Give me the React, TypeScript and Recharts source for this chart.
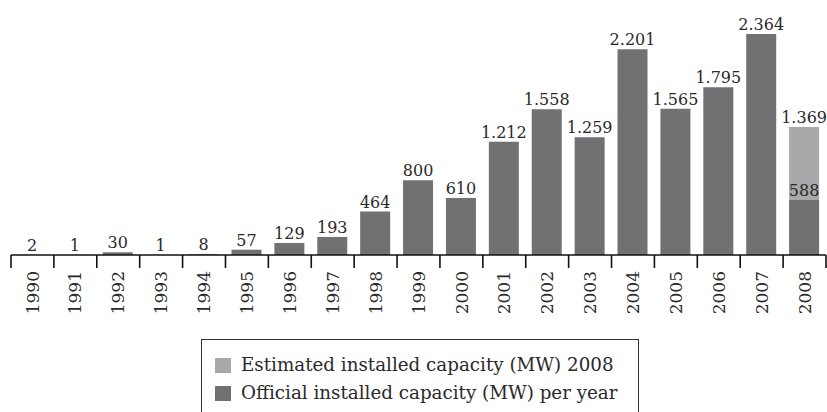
import React from 'react';
import { BarChart, Bar, XAxis, YAxis, LabelList, Legend } from 'recharts';

const years = ['1990','1991','1992','1993','1994','1995','1996','1997','1998','1999','2000','2001','2002','2003','2004','2005','2006','2007','2008'];
const official = [2,1,30,1,8,57,129,193,464,800,610,1212,1558,1259,2201,1565,1795,2364,588];
const estimatedTotal = [null,null,null,null,null,null,null,null,null,null,null,null,null,null,null,null,null,null,1369];

const data = years.map((y, i) => ({
  year: y,
  official: official[i],
  estimated: estimatedTotal[i] != null ? (estimatedTotal[i] as number) - official[i] : null,
  estTotal: estimatedTotal[i],
}));

const W = 827;
const H = 412;
const M = { top: 34, right: 1, left: 11, bottom: 0 };
const PLOT_W = W - M.left - M.right;
const HALF = PLOT_W / years.length / 2;
const FONT = 'DejaVu Serif';
const DARK = '#717174';
const LIGHT = '#a8a8ab';

const fmt = (v: any) => {
  if (v == null) return '';
  const s = String(Math.round(Number(v)));
  return s.replace(/\B(?=(\d{3})+(?!\d))/g, '.');
};

const Tick = (props: any) => {
  const { x, y, payload, index } = props;
  const last = index === years.length - 1;
  return (
    <g>
      <line x1={x - HALF} y1={y} x2={x - HALF} y2={y + 13} stroke="#111" strokeWidth={1.6} />
      {last && <line x1={x + HALF} y1={y} x2={x + HALF} y2={y + 13} stroke="#111" strokeWidth={1.6} />}
      <text
        x={x}
        y={y + 16}
        transform={`rotate(-90, ${x}, ${y + 16})`}
        textAnchor="end"
        dy="0.36em"
        fontFamily={FONT}
        fontSize={17}
        fill="#2a2a2a"
      >
        {payload.value}
      </text>
    </g>
  );
};

const ORDER = ['estimated', 'official'];

const LegendContent = (props: any) => {
  const items = [...(props.payload || [])].sort(
    (a: any, b: any) => ORDER.indexOf(a.dataKey) - ORDER.indexOf(b.dataKey)
  );
  return (
    <div style={{ fontFamily: FONT, fontSize: 18.3, color: '#2a2a2a', padding: '11px 0 0 13px', lineHeight: '28px' }}>
      {items.map((it: any) => (
        <div key={it.value} style={{ display: 'flex', alignItems: 'center', whiteSpace: 'nowrap' }}>
          <span style={{ display: 'inline-block', width: 16, height: 15, background: it.color, marginRight: 10, flexShrink: 0 }} />
          <span>{it.value}</span>
        </div>
      ))}
    </div>
  );
};

export default function App() {
  return (
    <div style={{ position: 'absolute', left: 0, top: 0, width: W, height: H, background: '#fff' }}>
      <BarChart width={W} height={H} data={data} margin={M} barCategoryGap="30%">
        <XAxis
          dataKey="year"
          height={H - 255}
          axisLine={{ stroke: '#111', strokeWidth: 1.6 }}
          tickLine={false}
          tickSize={0}
          tickMargin={0}
          interval={0}
          tick={<Tick />}
        />
        <YAxis hide domain={[0, 2364]} />
        <Legend
          layout="vertical"
          align="center"
          verticalAlign="middle"
          content={<LegendContent />}
          wrapperStyle={{ left: 201, top: 339, width: 438, height: 80, border: '1.5px solid #333', boxSizing: 'border-box', background: '#fff' }}
        />
        <Bar dataKey="official" name="Official installed capacity (MW) per year" stackId="a" fill={DARK} barSize={30} isAnimationActive={false}>
          <LabelList dataKey="official" position="top" offset={4} formatter={fmt} style={{ fontFamily: FONT, fontSize: 16, fill: '#2a2a2a' }} />
        </Bar>
        <Bar dataKey="estimated" name="Estimated installed capacity (MW) 2008" stackId="a" fill={LIGHT} barSize={30} isAnimationActive={false}>
          <LabelList dataKey="estTotal" position="top" offset={4} formatter={fmt} style={{ fontFamily: FONT, fontSize: 16, fill: '#2a2a2a' }} />
        </Bar>
      </BarChart>
    </div>
  );
}
